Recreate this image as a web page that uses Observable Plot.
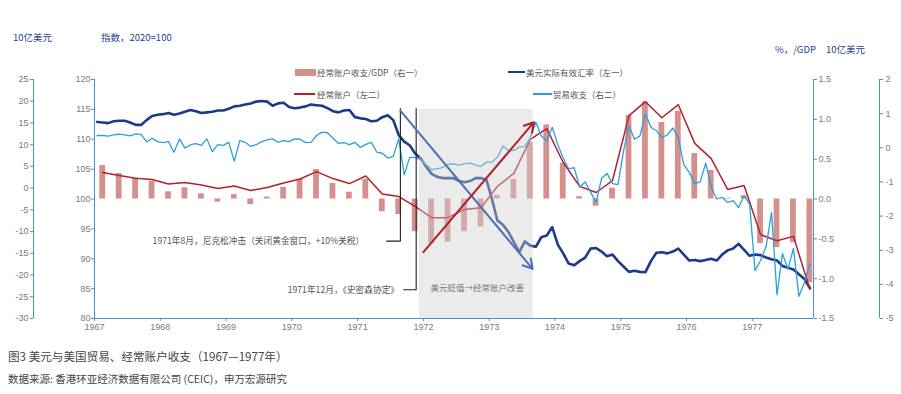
<!DOCTYPE html>
<html><head><meta charset="utf-8">
<script src="https://cdn.jsdelivr.net/npm/d3@7"></script>
<script src="https://cdn.jsdelivr.net/npm/@observablehq/plot@0.6"></script>
<style>
body{margin:0;background:#fff;}
#wrap{position:relative;width:901px;height:394px;overflow:hidden;font-family:'Noto Sans CJK SC','Noto Sans',sans-serif;}
#wrap svg{position:absolute;left:0;top:0;overflow:visible;}
.abs{position:absolute;white-space:nowrap;line-height:1;transform:translateY(-50%);}
.hdr{font-size:9.5px;color:#1f3f8f;}
.leg{font-size:8.5px;color:#555;}
.sw{position:absolute;}
.cap1{font-size:11.6px;color:#444;}
.cap2{font-size:10.5px;color:#444;}
</style></head><body><div id="wrap"></div>
<script>
// ---------------- data ----------------
const startYear = 1967;
const xTicks = [1967,1968,1969,1970,1971,1972,1973,1974,1975,1976,1977];
const indexTicks = [80,85,90,95,100,105,110,115,120];
const bnTicks = [-30,-25,-20,-15,-10,-5,0,5,10,15,20,25];
const pctTicks = [-1.5,-1.0,-0.5,0.0,0.5,1.0,1.5];
const tradeTicks = [-5,-4,-3,-2,-1,0,1,2];

// 经常账户收支/GDP (%), quarterly 1967Q1–1977Q4 (右一)
const caGdp = [0.42,0.32,0.26,0.22, 0.09,0.14,0.065,-0.04, 0.055,-0.07,0.025,0.145,
  0.245,0.37,0.195,0.085, 0.245,-0.16,-0.195,-0.41, -0.56,-0.54,-0.41,-0.35,
  0.045,0.245,0.71,0.93, 0.45,0.03,-0.09,0.135, 1.05,1.22,0.96,1.10,
  0.57,0.36,0.01,0.04, -0.56,-0.61,-0.55,-1.05];
// 经常账户 (10亿美元), quarterly (左二)
const currentAccount = [3.6,2.9,2.3,2.0, 0.95,1.3,0.7,-0.1, 0.5,-0.55,0.15,1.2,
  2.1,3.8,2.2,1.05, 2.8,-1.35,-1.95,-4.2, -6.8,-6.8,-4.9,-4.5,
  0.4,3.4,11.2,13.7, 5.9,0.4,-1.0,1.75, 16.7,19.9,16.2,19.2,
  10.3,6.8,-0.3,0.6, -10.7,-12.1,-11.1,-23.3];
// 美元实际有效汇率 (指数, 2020=100), monthly from Jan 1967 (左一)
const reer = [112.9,112.8,112.7,113.0,113.1,113.1,112.8,112.4,112.4,113.2,113.9,114.1,
  114.2,114.4,114.1,114.3,114.6,114.9,114.7,114.4,114.5,114.6,114.8,114.8,
  115.1,115.5,115.6,115.8,116.0,116.3,116.4,116.3,115.6,116.0,116.1,115.4,
  115.2,115.3,115.5,115.8,115.7,115.6,115.2,114.7,114.5,114.8,114.9,113.7,
  113.5,113.4,113.0,113.1,113.7,114.0,113.2,110.7,109.6,109.0,107.6,106.8,
  105.4,104.2,103.7,103.5,103.5,103.5,103.0,102.8,103.0,103.5,103.5,103.2,
  100.0,96.4,95.7,94.5,92.8,91.1,92.9,92.2,92.0,93.6,93.9,95.3,
  92.4,90.9,89.2,88.9,89.6,90.2,91.7,91.8,91.2,90.4,90.7,89.6,
  88.7,87.8,88.0,87.8,87.75,89.6,91.0,91.1,90.9,91.2,91.7,90.7,
  89.7,89.8,89.6,89.8,90.0,89.7,90.7,91.4,91.7,92.5,91.5,90.5,
  90.7,90.6,90.2,89.9,89.7,88.8,88.5,88.2,87.4,86.6,85.1];
// 贸易收支 (10亿美元), monthly from Jan 1967 (右二)
const trade = [0.36,0.36,0.34,0.38,0.40,0.38,0.35,0.41,0.39,0.17,0.28,0.18,
  0.15,0.18,-0.13,0.26,-0.01,0.09,0.12,0.07,0.26,-0.11,0.09,0.07,
  0.16,-0.40,0.21,0.16,0.04,0.09,0.18,0.23,0.26,0.16,0.21,0.18,
  0.26,0.25,0.15,0.16,0.36,0.46,0.44,0.28,0.13,0.15,0.09,0.16,
  0.01,0.10,0.16,-0.13,-0.16,-0.30,-0.25,0.26,-0.79,-0.28,-0.28,-0.35,
  -0.50,-0.64,-0.61,-0.58,-0.48,-0.47,-0.51,-0.47,-0.45,-0.50,-0.55,-0.42,
  -0.42,-0.28,0.05,-0.08,-0.08,0.02,0.04,0.30,0.75,0.35,0.20,0.60,
  0.10,-0.30,-0.62,-0.58,-1.15,-1.00,-1.30,-1.60,-0.90,-0.75,-1.05,-1.08,
  -0.10,0.65,0.25,0.35,1.00,0.60,0.50,0.30,0.38,0.58,0.30,-0.50,
  -0.72,-1.05,-1.00,-0.45,-1.15,-1.50,-1.45,-1.60,-1.55,-1.75,-1.40,-1.65,
  -3.60,-3.30,-2.90,-1.90,-4.30,-3.10,-3.55,-2.95,-4.35,-3.95,-3.40];

// annotations (x in years, y on the index scale)
const shade = {x1: 1971.94, x2: 1973.67, y1: 80, y2: 115, label: "美元贬值→经常账户改善", lx: 1972.82, ly: 85.0};
const events = [
  {label: "1971年8月，尼克松冲击（关闭黄金窗口，+10%关税）", date: 1971.65, elbow: 1971.44, textX: 1971.10, yText: 92.95, yTop: 115.15},
  {label: "1971年12月，《史密森协定》", date: 1971.89, elbow: 1971.70, textX: 1971.63, yText: 84.8, yTop: 115.15}
];
const arrows = [
  {x1: 1971.65, y1: 114.8, x2: 1973.66, y2: 88.3, color: "#4a72b2"},
  {x1: 1972.0, y1: 91.1, x2: 1973.68, y2: 112.85, color: "#b3202a"}
];

// ---------------- scales mapping onto index axis ----------------
const xDomain = [1967, 1977.93];
const fromBn = v => 80 + (v + 30) / 55 * 40, toBn = y => (y - 80) * 55 / 40 - 30;
const fromPct = v => 100 + v * 40 / 3, toPct = y => (y - 100) * 3 / 40;
const fromTrade = v => 80 + (v + 5) / 7 * 40, toTrade = y => (y - 80) * 7 / 40 - 5;
const fmt = (v, d) => { const r = +v.toFixed(d); return (r === 0 ? 0 : r).toFixed(d); };

const qx = i => startYear + (i + 0.5) / 4;
const mx = i => startYear + (i + 0.5) / 12;
const barData = caGdp.map((v, i) => ({x: qx(i), v}));
const caData = currentAccount.map((v, i) => ({x: qx(i), y: fromBn(v)}));
const reerData = reer.map((v, i) => ({x: mx(i), y: v}));
const tradeData = trade.map((v, i) => ({x: mx(i), y: fromTrade(v)}));
const bw = 0.044;

const axisColor = "#4a90cf", tickText = "#7a7a7a";
const cjk = "'Noto Sans CJK SC', sans-serif";
const common = {stroke: axisColor, fill: tickText, tickSize: 3, fontSize: 9, label: null};

const chart = Plot.plot({
  width: 901, height: 340,
  marginTop: 79, marginBottom: 22, marginLeft: 94, marginRight: 88,
  x: {domain: xDomain},
  y: {domain: [80, 120]},
  style: {fontFamily: "'Liberation Sans', Arial, sans-serif", fontSize: "9px", background: "transparent", overflow: "visible"},
  marks: [
    Plot.rect(barData, {x1: d => d.x - bw, x2: d => d.x + bw, y1: () => 100, y2: d => fromPct(d.v), fill: "#d3908d"}),
    Plot.line(reerData, {x: "x", y: "y", stroke: "#1b3a8c", strokeWidth: 2.6, curve: "linear"}),
    Plot.line(caData, {x: "x", y: "y", stroke: "#b5202a", strokeWidth: 1.5}),
    Plot.line(tradeData, {x: "x", y: "y", stroke: "#2aa0dc", strokeWidth: 1.3}),
    // shaded period drawn over series
    Plot.rect([shade], {x1: "x1", x2: "x2", y1: "y1", y2: "y2", fill: "#d0d0d0", fillOpacity: 0.42}),
    Plot.text([shade], {x: "lx", y: "ly", text: "label", fontFamily: cjk, fontSize: 8.5, fill: "#777"}),
    // event markers
    ...events.map(e => Plot.line([{x: e.elbow, y: e.yText}, {x: e.date, y: e.yText}, {x: e.date, y: e.yTop}], {x: "x", y: "y", stroke: "#222", strokeWidth: 1.1})),
    Plot.text(events, {x: "textX", y: "yText", text: "label", textAnchor: "end", fontFamily: cjk, fontSize: 8.7, fill: "#555"}),
    Plot.arrow(arrows, {x1: "x1", y1: "y1", x2: "x2", y2: "y2", stroke: "color", strokeWidth: 2, headLength: 8}),
    // axis lines
    Plot.ruleY([80], {stroke: axisColor}),
    Plot.ruleX([xDomain[0]], {stroke: axisColor}),
    Plot.ruleX([xDomain[0]], {stroke: axisColor, dx: -61}),
    Plot.ruleX([xDomain[1]], {stroke: axisColor}),
    Plot.ruleX([xDomain[1]], {stroke: axisColor, dx: 66}),
    // axes
    Plot.axisX(xTicks, {...common, tickFormat: d => String(d), tickPadding: 2}),
    Plot.axisY(indexTicks, {...common, anchor: "left", tickFormat: d => String(d), tickPadding: 1}),
    Plot.axisY(bnTicks.map(fromBn), {...common, anchor: "left", dx: -61, tickFormat: y => fmt(toBn(y), 0), tickPadding: 2}),
    Plot.axisY(pctTicks.map(fromPct), {...common, anchor: "right", tickFormat: y => fmt(toPct(y), 1), tickPadding: 2}),
    Plot.axisY(tradeTicks.map(fromTrade), {...common, anchor: "right", dx: 66, tickFormat: y => fmt(toTrade(y), 0), tickPadding: 3})
  ]
});

const wrap = document.getElementById("wrap");
wrap.appendChild(chart);

function addText(cls, text, x, y) {
  const d = document.createElement("div");
  d.className = "abs " + cls; d.textContent = text;
  d.style.left = x + "px"; d.style.top = y + "px";
  wrap.appendChild(d);
}
function addSwatch(x, y, w, h, color) {
  const s = document.createElement("div");
  s.className = "sw"; s.style.left = x + "px"; s.style.top = (y - h / 2) + "px";
  s.style.width = w + "px"; s.style.height = h + "px"; s.style.background = color;
  wrap.appendChild(s);
}
// headers
addText("hdr", "10亿美元", 13, 38);
addText("hdr", "指数，2020=100", 101, 38);
addText("hdr", "%，/GDP", 775, 50);
addText("hdr", "10亿美元", 826, 50);
// legend
addSwatch(295, 72, 21, 7, "#d3908d"); addText("leg", "经常账户收支/GDP（右一）", 317, 72);
addSwatch(508, 72, 17, 2.6, "#1b3a8c"); addText("leg", "美元实际有效汇率（左一）", 526, 72);
addSwatch(294, 94, 21, 1.5, "#b5202a"); addText("leg", "经常账户（左二）", 317, 94);
addSwatch(533, 94, 19, 1.3, "#2aa0dc"); addText("leg", "贸易收支（右二）", 553, 94);
// caption
addText("cap1", "图3 美元与美国贸易、经常账户收支（1967—1977年）", 8, 357);
addText("cap2", "数据来源: 香港环亚经济数据有限公司 (CEIC)，申万宏源研究", 8, 379);
</script></body></html>
